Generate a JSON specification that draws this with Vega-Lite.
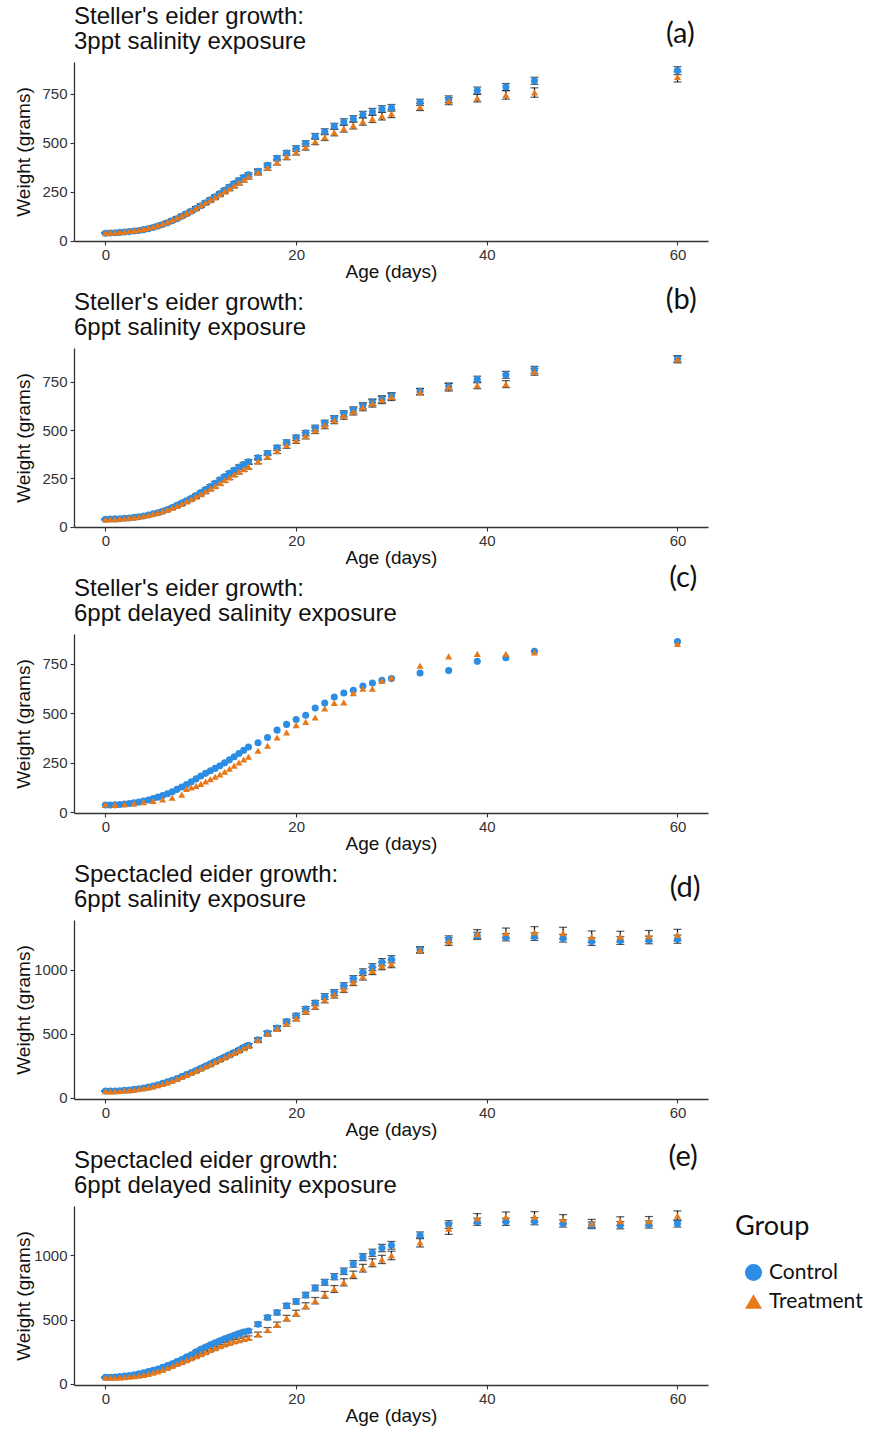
{
"$schema": "https://vega.github.io/schema/vega-lite/v6.json",
"background": "white",
"padding": {"left": 14, "top": 4, "right": 5, "bottom": 2},
"bounds": "flush",
"spacing": 107,
"config": {
  "view": {"stroke": null},
  "axis": {"grid": false, "domainColor": "#333333", "domainWidth": 1.3, "tickColor": "#333333", "tickSize": 4, "tickWidth": 1.1, "labelFont": "Liberation Sans", "labelFontSize": 15, "labelColor": "#333333", "titleFont": "Liberation Sans", "titleFontSize": 19, "titleFontWeight": "normal", "titleColor": "#111111"},
  "axisX": {"labelPadding": 2, "titlePadding": 0},
  "axisY": {"labelPadding": 3, "minExtent": 37, "maxExtent": 37, "titlePadding": 4, "format": "d"},
  "title": {"font": "Liberation Sans", "fontSize": 24, "fontWeight": "normal", "anchor": "start", "frame": "group", "color": "#111111", "lineHeight": 25},
  "legend": {"titleFont": "Lato", "titleFontSize": 27, "titleFontWeight": "normal", "titleColor": "#111111", "labelFont": "Lato", "labelFontSize": 21, "labelColor": "#111111", "symbolSize": 290, "symbolStrokeWidth": 0, "rowPadding": 7, "titlePadding": 21, "symbolOffset": 8, "labelOffset": 5, "offset": 19, "padding": 8}
},
"resolve": {"legend": {"color": "independent", "shape": "independent"}},
"datasets": {
"a": [
{"g":"Control","d":0,"w":38,"e":3},{"g":"Control","d":0.5,"w":39,"e":3},{"g":"Control","d":1,"w":40,"e":3},{"g":"Control","d":1.5,"w":42,"e":3},{"g":"Control","d":2,"w":44,"e":3},{"g":"Control","d":2.5,"w":46,"e":3},{"g":"Control","d":3,"w":49,"e":4},{"g":"Control","d":3.5,"w":52,"e":4},{"g":"Control","d":4,"w":56,"e":4},{"g":"Control","d":4.5,"w":61,"e":4},{"g":"Control","d":5,"w":67,"e":5},{"g":"Control","d":5.5,"w":74,"e":5},{"g":"Control","d":6,"w":82,"e":5},{"g":"Control","d":6.5,"w":91,"e":6},{"g":"Control","d":7,"w":101,"e":6},{"g":"Control","d":7.5,"w":112,"e":6},{"g":"Control","d":8,"w":124,"e":7},{"g":"Control","d":8.5,"w":137,"e":7},{"g":"Control","d":9,"w":150,"e":7},{"g":"Control","d":9.5,"w":164,"e":8},{"g":"Control","d":10,"w":178,"e":8},{"g":"Control","d":10.5,"w":193,"e":8},{"g":"Control","d":11,"w":208,"e":9},{"g":"Control","d":11.5,"w":224,"e":9},{"g":"Control","d":12,"w":240,"e":9},{"g":"Control","d":12.5,"w":257,"e":10},{"g":"Control","d":13,"w":274,"e":10},{"g":"Control","d":13.5,"w":291,"e":10},{"g":"Control","d":14,"w":307,"e":11},{"g":"Control","d":14.5,"w":322,"e":11},{"g":"Control","d":15,"w":336,"e":11},
{"g":"Control","d":16,"w":354,"e":12},{"g":"Control","d":17,"w":384,"e":12},{"g":"Control","d":18,"w":420,"e":13},{"g":"Control","d":19,"w":447,"e":13},{"g":"Control","d":20,"w":470,"e":14},{"g":"Control","d":21,"w":496,"e":14},{"g":"Control","d":22,"w":532,"e":15},{"g":"Control","d":23,"w":556,"e":15},{"g":"Control","d":24,"w":584,"e":15},{"g":"Control","d":25,"w":606,"e":16},{"g":"Control","d":26,"w":622,"e":16},{"g":"Control","d":27,"w":644,"e":16},{"g":"Control","d":28,"w":658,"e":17},{"g":"Control","d":29,"w":672,"e":17},{"g":"Control","d":30,"w":678,"e":17},{"g":"Control","d":33,"w":706,"e":16},{"g":"Control","d":36,"w":722,"e":17},{"g":"Control","d":39,"w":766,"e":18},{"g":"Control","d":42,"w":784,"e":18},{"g":"Control","d":45,"w":816,"e":18},{"g":"Control","d":60,"w":868,"e":20},
{"g":"Treatment","d":0,"w":40,"e":3},{"g":"Treatment","d":0.5,"w":41,"e":3},{"g":"Treatment","d":1,"w":42,"e":3},{"g":"Treatment","d":1.5,"w":44,"e":3},{"g":"Treatment","d":2,"w":46,"e":4},{"g":"Treatment","d":2.5,"w":49,"e":4},{"g":"Treatment","d":3,"w":52,"e":4},{"g":"Treatment","d":3.5,"w":56,"e":5},{"g":"Treatment","d":4,"w":60,"e":5},{"g":"Treatment","d":4.5,"w":65,"e":5},{"g":"Treatment","d":5,"w":71,"e":6},{"g":"Treatment","d":5.5,"w":78,"e":6},{"g":"Treatment","d":6,"w":86,"e":6},{"g":"Treatment","d":6.5,"w":95,"e":7},{"g":"Treatment","d":7,"w":105,"e":7},{"g":"Treatment","d":7.5,"w":116,"e":7},{"g":"Treatment","d":8,"w":127,"e":8},{"g":"Treatment","d":8.5,"w":139,"e":8},{"g":"Treatment","d":9,"w":152,"e":8},{"g":"Treatment","d":9.5,"w":165,"e":9},{"g":"Treatment","d":10,"w":179,"e":9},{"g":"Treatment","d":10.5,"w":193,"e":9},{"g":"Treatment","d":11,"w":207,"e":10},{"g":"Treatment","d":11.5,"w":221,"e":10},{"g":"Treatment","d":12,"w":236,"e":10},{"g":"Treatment","d":12.5,"w":251,"e":11},{"g":"Treatment","d":13,"w":266,"e":11},{"g":"Treatment","d":13.5,"w":281,"e":11},{"g":"Treatment","d":14,"w":296,"e":12},{"g":"Treatment","d":14.5,"w":311,"e":12},{"g":"Treatment","d":15,"w":326,"e":12},
{"g":"Treatment","d":16,"w":348,"e":13},{"g":"Treatment","d":17,"w":372,"e":13},{"g":"Treatment","d":18,"w":400,"e":14},{"g":"Treatment","d":19,"w":428,"e":15},{"g":"Treatment","d":20,"w":452,"e":15},{"g":"Treatment","d":21,"w":478,"e":16},{"g":"Treatment","d":22,"w":506,"e":16},{"g":"Treatment","d":23,"w":528,"e":17},{"g":"Treatment","d":24,"w":552,"e":17},{"g":"Treatment","d":25,"w":572,"e":18},{"g":"Treatment","d":26,"w":588,"e":18},{"g":"Treatment","d":27,"w":608,"e":19},{"g":"Treatment","d":28,"w":622,"e":19},{"g":"Treatment","d":29,"w":636,"e":20},{"g":"Treatment","d":30,"w":648,"e":20},{"g":"Treatment","d":33,"w":682,"e":18},{"g":"Treatment","d":36,"w":712,"e":18},{"g":"Treatment","d":39,"w":728,"e":20},{"g":"Treatment","d":42,"w":744,"e":22},{"g":"Treatment","d":45,"w":756,"e":24},{"g":"Treatment","d":60,"w":836,"e":26}
],
"b": [
{"g":"Control","d":0,"w":38,"e":3},{"g":"Control","d":0.5,"w":39,"e":3},{"g":"Control","d":1,"w":40,"e":3},{"g":"Control","d":1.5,"w":41,"e":3},{"g":"Control","d":2,"w":43,"e":3},{"g":"Control","d":2.5,"w":45,"e":3},{"g":"Control","d":3,"w":48,"e":4},{"g":"Control","d":3.5,"w":51,"e":4},{"g":"Control","d":4,"w":55,"e":4},{"g":"Control","d":4.5,"w":60,"e":4},{"g":"Control","d":5,"w":66,"e":5},{"g":"Control","d":5.5,"w":72,"e":5},{"g":"Control","d":6,"w":80,"e":5},{"g":"Control","d":6.5,"w":89,"e":6},{"g":"Control","d":7,"w":99,"e":6},{"g":"Control","d":7.5,"w":110,"e":6},{"g":"Control","d":8,"w":122,"e":7},{"g":"Control","d":8.5,"w":134,"e":7},{"g":"Control","d":9,"w":147,"e":7},{"g":"Control","d":9.5,"w":161,"e":8},{"g":"Control","d":10,"w":176,"e":8},{"g":"Control","d":10.5,"w":192,"e":8},{"g":"Control","d":11,"w":208,"e":9},{"g":"Control","d":11.5,"w":225,"e":9},{"g":"Control","d":12,"w":242,"e":9},{"g":"Control","d":12.5,"w":259,"e":10},{"g":"Control","d":13,"w":276,"e":10},{"g":"Control","d":13.5,"w":292,"e":10},{"g":"Control","d":14,"w":308,"e":11},{"g":"Control","d":14.5,"w":322,"e":11},{"g":"Control","d":15,"w":336,"e":11},
{"g":"Control","d":16,"w":356,"e":12},{"g":"Control","d":17,"w":380,"e":12},{"g":"Control","d":18,"w":408,"e":13},{"g":"Control","d":19,"w":436,"e":13},{"g":"Control","d":20,"w":460,"e":14},{"g":"Control","d":21,"w":484,"e":14},{"g":"Control","d":22,"w":510,"e":15},{"g":"Control","d":23,"w":536,"e":15},{"g":"Control","d":24,"w":560,"e":15},{"g":"Control","d":25,"w":584,"e":16},{"g":"Control","d":26,"w":604,"e":16},{"g":"Control","d":27,"w":626,"e":16},{"g":"Control","d":28,"w":644,"e":17},{"g":"Control","d":29,"w":660,"e":17},{"g":"Control","d":30,"w":676,"e":17},{"g":"Control","d":33,"w":700,"e":16},{"g":"Control","d":36,"w":726,"e":17},{"g":"Control","d":39,"w":762,"e":17},{"g":"Control","d":42,"w":786,"e":18},{"g":"Control","d":45,"w":812,"e":18},{"g":"Control","d":60,"w":868,"e":16},
{"g":"Treatment","d":0,"w":37,"e":3},{"g":"Treatment","d":0.5,"w":38,"e":3},{"g":"Treatment","d":1,"w":39,"e":3},{"g":"Treatment","d":1.5,"w":41,"e":3},{"g":"Treatment","d":2,"w":43,"e":4},{"g":"Treatment","d":2.5,"w":45,"e":4},{"g":"Treatment","d":3,"w":48,"e":4},{"g":"Treatment","d":3.5,"w":51,"e":5},{"g":"Treatment","d":4,"w":55,"e":5},{"g":"Treatment","d":4.5,"w":60,"e":5},{"g":"Treatment","d":5,"w":66,"e":6},{"g":"Treatment","d":5.5,"w":72,"e":6},{"g":"Treatment","d":6,"w":80,"e":6},{"g":"Treatment","d":6.5,"w":88,"e":7},{"g":"Treatment","d":7,"w":97,"e":7},{"g":"Treatment","d":7.5,"w":107,"e":7},{"g":"Treatment","d":8,"w":118,"e":8},{"g":"Treatment","d":8.5,"w":130,"e":8},{"g":"Treatment","d":9,"w":142,"e":8},{"g":"Treatment","d":9.5,"w":155,"e":9},{"g":"Treatment","d":10,"w":168,"e":9},{"g":"Treatment","d":10.5,"w":182,"e":9},{"g":"Treatment","d":11,"w":196,"e":10},{"g":"Treatment","d":11.5,"w":210,"e":10},{"g":"Treatment","d":12,"w":225,"e":10},{"g":"Treatment","d":12.5,"w":240,"e":11},{"g":"Treatment","d":13,"w":255,"e":11},{"g":"Treatment","d":13.5,"w":270,"e":11},{"g":"Treatment","d":14,"w":285,"e":12},{"g":"Treatment","d":14.5,"w":298,"e":12},{"g":"Treatment","d":15,"w":310,"e":12},
{"g":"Treatment","d":16,"w":338,"e":13},{"g":"Treatment","d":17,"w":362,"e":13},{"g":"Treatment","d":18,"w":392,"e":14},{"g":"Treatment","d":19,"w":420,"e":15},{"g":"Treatment","d":20,"w":446,"e":15},{"g":"Treatment","d":21,"w":470,"e":16},{"g":"Treatment","d":22,"w":498,"e":16},{"g":"Treatment","d":23,"w":524,"e":17},{"g":"Treatment","d":24,"w":550,"e":17},{"g":"Treatment","d":25,"w":574,"e":18},{"g":"Treatment","d":26,"w":596,"e":18},{"g":"Treatment","d":27,"w":618,"e":18},{"g":"Treatment","d":28,"w":638,"e":19},{"g":"Treatment","d":29,"w":656,"e":19},{"g":"Treatment","d":30,"w":672,"e":19},{"g":"Treatment","d":33,"w":698,"e":16},{"g":"Treatment","d":36,"w":722,"e":20},{"g":"Treatment","d":39,"w":732,"e":18},{"g":"Treatment","d":42,"w":738,"e":18},{"g":"Treatment","d":45,"w":802,"e":18},{"g":"Treatment","d":60,"w":866,"e":18}
],
"c": [
{"g":"Control","d":0,"w":37},{"g":"Control","d":0.5,"w":37},{"g":"Control","d":1,"w":38},{"g":"Control","d":1.5,"w":40},{"g":"Control","d":2,"w":42},{"g":"Control","d":2.5,"w":45},{"g":"Control","d":3,"w":48},{"g":"Control","d":3.5,"w":52},{"g":"Control","d":4,"w":57},{"g":"Control","d":4.5,"w":63},{"g":"Control","d":5,"w":70},{"g":"Control","d":5.5,"w":77},{"g":"Control","d":6,"w":85},{"g":"Control","d":6.5,"w":94},{"g":"Control","d":7,"w":104},{"g":"Control","d":7.5,"w":116},{"g":"Control","d":8,"w":128},{"g":"Control","d":8.5,"w":141},{"g":"Control","d":9,"w":155},{"g":"Control","d":9.5,"w":169},{"g":"Control","d":10,"w":184},{"g":"Control","d":10.5,"w":197},{"g":"Control","d":11,"w":210},{"g":"Control","d":11.5,"w":222},{"g":"Control","d":12,"w":235},{"g":"Control","d":12.5,"w":250},{"g":"Control","d":13,"w":265},{"g":"Control","d":13.5,"w":281},{"g":"Control","d":14,"w":297},{"g":"Control","d":14.5,"w":313},{"g":"Control","d":15,"w":330},
{"g":"Control","d":16,"w":351},{"g":"Control","d":17,"w":378},{"g":"Control","d":18,"w":415},{"g":"Control","d":19,"w":444},{"g":"Control","d":20,"w":469},{"g":"Control","d":21,"w":490},{"g":"Control","d":22,"w":527},{"g":"Control","d":23,"w":552},{"g":"Control","d":24,"w":582},{"g":"Control","d":25,"w":602},{"g":"Control","d":26,"w":616},{"g":"Control","d":27,"w":638},{"g":"Control","d":28,"w":653},{"g":"Control","d":29,"w":666},{"g":"Control","d":30,"w":675},{"g":"Control","d":33,"w":703},{"g":"Control","d":36,"w":716},{"g":"Control","d":39,"w":762},{"g":"Control","d":42,"w":780},{"g":"Control","d":45,"w":813},{"g":"Control","d":60,"w":862},
{"g":"Treatment","d":0,"w":40},{"g":"Treatment","d":1,"w":38},{"g":"Treatment","d":2,"w":41},{"g":"Treatment","d":3,"w":45},{"g":"Treatment","d":4,"w":52},{"g":"Treatment","d":5,"w":58},{"g":"Treatment","d":6,"w":65},{"g":"Treatment","d":7,"w":74},{"g":"Treatment","d":8,"w":90},{"g":"Treatment","d":8.5,"w":118},{"g":"Treatment","d":9,"w":126},{"g":"Treatment","d":9.5,"w":134},{"g":"Treatment","d":10,"w":144},{"g":"Treatment","d":10.5,"w":156},{"g":"Treatment","d":11,"w":168},{"g":"Treatment","d":11.5,"w":180},{"g":"Treatment","d":12,"w":192},{"g":"Treatment","d":12.5,"w":205},{"g":"Treatment","d":13,"w":220},{"g":"Treatment","d":13.5,"w":236},{"g":"Treatment","d":14,"w":252},{"g":"Treatment","d":14.5,"w":267},{"g":"Treatment","d":15,"w":281},
{"g":"Treatment","d":16,"w":311},{"g":"Treatment","d":17,"w":336},{"g":"Treatment","d":18,"w":378},{"g":"Treatment","d":19,"w":403},{"g":"Treatment","d":20,"w":440},{"g":"Treatment","d":21,"w":457},{"g":"Treatment","d":22,"w":479},{"g":"Treatment","d":23,"w":524},{"g":"Treatment","d":24,"w":552},{"g":"Treatment","d":25,"w":555},{"g":"Treatment","d":26,"w":602},{"g":"Treatment","d":27,"w":624},{"g":"Treatment","d":28,"w":624},{"g":"Treatment","d":29,"w":663},{"g":"Treatment","d":30,"w":680},{"g":"Treatment","d":33,"w":740},{"g":"Treatment","d":36,"w":787},{"g":"Treatment","d":39,"w":800},{"g":"Treatment","d":42,"w":800},{"g":"Treatment","d":45,"w":807},{"g":"Treatment","d":60,"w":850}
],
"d": [
{"g":"Control","d":0,"w":52,"e":3},{"g":"Control","d":0.5,"w":52,"e":3},{"g":"Control","d":1,"w":53,"e":3},{"g":"Control","d":1.5,"w":55,"e":3},{"g":"Control","d":2,"w":58,"e":3},{"g":"Control","d":2.5,"w":61,"e":4},{"g":"Control","d":3,"w":65,"e":4},{"g":"Control","d":3.5,"w":70,"e":4},{"g":"Control","d":4,"w":76,"e":5},{"g":"Control","d":4.5,"w":83,"e":5},{"g":"Control","d":5,"w":92,"e":5},{"g":"Control","d":5.5,"w":101,"e":6},{"g":"Control","d":6,"w":112,"e":6},{"g":"Control","d":6.5,"w":124,"e":6},{"g":"Control","d":7,"w":137,"e":7},{"g":"Control","d":7.5,"w":151,"e":7},{"g":"Control","d":8,"w":166,"e":7},{"g":"Control","d":8.5,"w":181,"e":8},{"g":"Control","d":9,"w":197,"e":8},{"g":"Control","d":9.5,"w":213,"e":9},{"g":"Control","d":10,"w":230,"e":9},{"g":"Control","d":10.5,"w":248,"e":10},{"g":"Control","d":11,"w":265,"e":10},{"g":"Control","d":11.5,"w":283,"e":11},{"g":"Control","d":12,"w":300,"e":11},{"g":"Control","d":12.5,"w":318,"e":12},{"g":"Control","d":13,"w":335,"e":12},{"g":"Control","d":13.5,"w":353,"e":13},{"g":"Control","d":14,"w":372,"e":13},{"g":"Control","d":14.5,"w":392,"e":14},{"g":"Control","d":15,"w":410,"e":14},
{"g":"Control","d":16,"w":453,"e":15},{"g":"Control","d":17,"w":505,"e":16},{"g":"Control","d":18,"w":546,"e":17},{"g":"Control","d":19,"w":596,"e":18},{"g":"Control","d":20,"w":641,"e":19},{"g":"Control","d":21,"w":693,"e":20},{"g":"Control","d":22,"w":740,"e":21},{"g":"Control","d":23,"w":792,"e":22},{"g":"Control","d":24,"w":823,"e":23},{"g":"Control","d":25,"w":875,"e":24},{"g":"Control","d":26,"w":930,"e":25},{"g":"Control","d":27,"w":982,"e":26},{"g":"Control","d":28,"w":1021,"e":27},{"g":"Control","d":29,"w":1060,"e":28},{"g":"Control","d":30,"w":1083,"e":28},{"g":"Control","d":33,"w":1158,"e":22},{"g":"Control","d":36,"w":1240,"e":26},{"g":"Control","d":39,"w":1266,"e":28},{"g":"Control","d":42,"w":1255,"e":28},{"g":"Control","d":45,"w":1260,"e":30},{"g":"Control","d":48,"w":1247,"e":30},{"g":"Control","d":51,"w":1221,"e":30},{"g":"Control","d":54,"w":1229,"e":30},{"g":"Control","d":57,"w":1234,"e":30},{"g":"Control","d":60,"w":1240,"e":32},
{"g":"Treatment","d":0,"w":51,"e":3},{"g":"Treatment","d":0.5,"w":50,"e":3},{"g":"Treatment","d":1,"w":51,"e":3},{"g":"Treatment","d":1.5,"w":53,"e":3},{"g":"Treatment","d":2,"w":56,"e":4},{"g":"Treatment","d":2.5,"w":59,"e":4},{"g":"Treatment","d":3,"w":63,"e":4},{"g":"Treatment","d":3.5,"w":68,"e":5},{"g":"Treatment","d":4,"w":74,"e":5},{"g":"Treatment","d":4.5,"w":81,"e":5},{"g":"Treatment","d":5,"w":89,"e":6},{"g":"Treatment","d":5.5,"w":98,"e":6},{"g":"Treatment","d":6,"w":108,"e":7},{"g":"Treatment","d":6.5,"w":120,"e":7},{"g":"Treatment","d":7,"w":133,"e":8},{"g":"Treatment","d":7.5,"w":147,"e":8},{"g":"Treatment","d":8,"w":162,"e":9},{"g":"Treatment","d":8.5,"w":178,"e":9},{"g":"Treatment","d":9,"w":194,"e":10},{"g":"Treatment","d":9.5,"w":210,"e":10},{"g":"Treatment","d":10,"w":227,"e":11},{"g":"Treatment","d":10.5,"w":244,"e":11},{"g":"Treatment","d":11,"w":261,"e":12},{"g":"Treatment","d":11.5,"w":279,"e":12},{"g":"Treatment","d":12,"w":297,"e":13},{"g":"Treatment","d":12.5,"w":315,"e":13},{"g":"Treatment","d":13,"w":333,"e":14},{"g":"Treatment","d":13.5,"w":351,"e":14},{"g":"Treatment","d":14,"w":369,"e":15},{"g":"Treatment","d":14.5,"w":387,"e":15},{"g":"Treatment","d":15,"w":405,"e":16},
{"g":"Treatment","d":16,"w":450,"e":17},{"g":"Treatment","d":17,"w":500,"e":18},{"g":"Treatment","d":18,"w":540,"e":19},{"g":"Treatment","d":19,"w":578,"e":20},{"g":"Treatment","d":20,"w":622,"e":21},{"g":"Treatment","d":21,"w":675,"e":22},{"g":"Treatment","d":22,"w":714,"e":23},{"g":"Treatment","d":23,"w":766,"e":24},{"g":"Treatment","d":24,"w":805,"e":25},{"g":"Treatment","d":25,"w":849,"e":26},{"g":"Treatment","d":26,"w":904,"e":27},{"g":"Treatment","d":27,"w":948,"e":28},{"g":"Treatment","d":28,"w":992,"e":29},{"g":"Treatment","d":29,"w":1031,"e":30},{"g":"Treatment","d":30,"w":1047,"e":30},{"g":"Treatment","d":33,"w":1154,"e":24},{"g":"Treatment","d":36,"w":1221,"e":30},{"g":"Treatment","d":39,"w":1281,"e":34},{"g":"Treatment","d":42,"w":1287,"e":40},{"g":"Treatment","d":45,"w":1292,"e":46},{"g":"Treatment","d":48,"w":1287,"e":46},{"g":"Treatment","d":51,"w":1260,"e":44},{"g":"Treatment","d":54,"w":1260,"e":42},{"g":"Treatment","d":57,"w":1266,"e":42},{"g":"Treatment","d":60,"w":1273,"e":44}
],
"e": [
{"g":"Control","d":0,"w":52,"e":3},{"g":"Control","d":0.5,"w":52,"e":3},{"g":"Control","d":1,"w":54,"e":3},{"g":"Control","d":1.5,"w":57,"e":3},{"g":"Control","d":2,"w":61,"e":3},{"g":"Control","d":2.5,"w":66,"e":4},{"g":"Control","d":3,"w":72,"e":4},{"g":"Control","d":3.5,"w":79,"e":4},{"g":"Control","d":4,"w":87,"e":5},{"g":"Control","d":4.5,"w":96,"e":5},{"g":"Control","d":5,"w":106,"e":5},{"g":"Control","d":5.5,"w":117,"e":6},{"g":"Control","d":6,"w":129,"e":6},{"g":"Control","d":6.5,"w":143,"e":6},{"g":"Control","d":7,"w":158,"e":7},{"g":"Control","d":7.5,"w":174,"e":7},{"g":"Control","d":8,"w":191,"e":7},{"g":"Control","d":8.5,"w":209,"e":8},{"g":"Control","d":9,"w":228,"e":8},{"g":"Control","d":9.5,"w":250,"e":9},{"g":"Control","d":10,"w":270,"e":9},{"g":"Control","d":10.5,"w":288,"e":10},{"g":"Control","d":11,"w":304,"e":10},{"g":"Control","d":11.5,"w":320,"e":11},{"g":"Control","d":12,"w":336,"e":11},{"g":"Control","d":12.5,"w":351,"e":12},{"g":"Control","d":13,"w":365,"e":12},{"g":"Control","d":13.5,"w":379,"e":13},{"g":"Control","d":14,"w":393,"e":13},{"g":"Control","d":14.5,"w":405,"e":14},{"g":"Control","d":15,"w":412,"e":14},
{"g":"Control","d":16,"w":465,"e":16},{"g":"Control","d":17,"w":517,"e":17},{"g":"Control","d":18,"w":556,"e":18},{"g":"Control","d":19,"w":608,"e":19},{"g":"Control","d":20,"w":642,"e":20},{"g":"Control","d":21,"w":692,"e":21},{"g":"Control","d":22,"w":747,"e":22},{"g":"Control","d":23,"w":791,"e":23},{"g":"Control","d":24,"w":835,"e":24},{"g":"Control","d":25,"w":877,"e":25},{"g":"Control","d":26,"w":935,"e":26},{"g":"Control","d":27,"w":987,"e":27},{"g":"Control","d":28,"w":1021,"e":28},{"g":"Control","d":29,"w":1058,"e":29},{"g":"Control","d":30,"w":1079,"e":30},{"g":"Control","d":33,"w":1157,"e":26},{"g":"Control","d":36,"w":1241,"e":30},{"g":"Control","d":39,"w":1262,"e":28},{"g":"Control","d":42,"w":1262,"e":28},{"g":"Control","d":45,"w":1267,"e":28},{"g":"Control","d":48,"w":1249,"e":28},{"g":"Control","d":51,"w":1235,"e":26},{"g":"Control","d":54,"w":1235,"e":28},{"g":"Control","d":57,"w":1241,"e":28},{"g":"Control","d":60,"w":1249,"e":28},
{"g":"Treatment","d":0,"w":50,"e":3},{"g":"Treatment","d":0.5,"w":49,"e":3},{"g":"Treatment","d":1,"w":49,"e":3},{"g":"Treatment","d":1.5,"w":51,"e":4},{"g":"Treatment","d":2,"w":53,"e":4},{"g":"Treatment","d":2.5,"w":56,"e":4},{"g":"Treatment","d":3,"w":60,"e":5},{"g":"Treatment","d":3.5,"w":65,"e":5},{"g":"Treatment","d":4,"w":71,"e":5},{"g":"Treatment","d":4.5,"w":79,"e":6},{"g":"Treatment","d":5,"w":88,"e":6},{"g":"Treatment","d":5.5,"w":98,"e":7},{"g":"Treatment","d":6,"w":110,"e":7},{"g":"Treatment","d":6.5,"w":124,"e":8},{"g":"Treatment","d":7,"w":140,"e":8},{"g":"Treatment","d":7.5,"w":155,"e":9},{"g":"Treatment","d":8,"w":170,"e":9},{"g":"Treatment","d":8.5,"w":185,"e":10},{"g":"Treatment","d":9,"w":200,"e":10},{"g":"Treatment","d":9.5,"w":216,"e":11},{"g":"Treatment","d":10,"w":232,"e":11},{"g":"Treatment","d":10.5,"w":248,"e":12},{"g":"Treatment","d":11,"w":264,"e":12},{"g":"Treatment","d":11.5,"w":279,"e":13},{"g":"Treatment","d":12,"w":294,"e":13},{"g":"Treatment","d":12.5,"w":308,"e":14},{"g":"Treatment","d":13,"w":320,"e":14},{"g":"Treatment","d":13.5,"w":331,"e":15},{"g":"Treatment","d":14,"w":341,"e":15},{"g":"Treatment","d":14.5,"w":350,"e":16},{"g":"Treatment","d":15,"w":358,"e":16},
{"g":"Treatment","d":16,"w":386,"e":18},{"g":"Treatment","d":17,"w":420,"e":19},{"g":"Treatment","d":18,"w":462,"e":20},{"g":"Treatment","d":19,"w":512,"e":22},{"g":"Treatment","d":20,"w":551,"e":23},{"g":"Treatment","d":21,"w":608,"e":24},{"g":"Treatment","d":22,"w":648,"e":25},{"g":"Treatment","d":23,"w":694,"e":26},{"g":"Treatment","d":24,"w":739,"e":27},{"g":"Treatment","d":25,"w":791,"e":28},{"g":"Treatment","d":26,"w":849,"e":29},{"g":"Treatment","d":27,"w":901,"e":30},{"g":"Treatment","d":28,"w":943,"e":31},{"g":"Treatment","d":29,"w":969,"e":32},{"g":"Treatment","d":30,"w":1000,"e":33},{"g":"Treatment","d":33,"w":1102,"e":36},{"g":"Treatment","d":36,"w":1209,"e":45},{"g":"Treatment","d":39,"w":1288,"e":38},{"g":"Treatment","d":42,"w":1301,"e":38},{"g":"Treatment","d":45,"w":1301,"e":40},{"g":"Treatment","d":48,"w":1282,"e":36},{"g":"Treatment","d":51,"w":1249,"e":32},{"g":"Treatment","d":54,"w":1267,"e":34},{"g":"Treatment","d":57,"w":1267,"e":36},{"g":"Treatment","d":60,"w":1309,"e":38}
]
},
"vconcat": [
{
  "title": {"text": ["Steller's eider growth:", "3ppt salinity exposure"], "offset": -33.7},
  "width": 634, "height": 179,
  "layer": [
    {"data": {"name": "a"},
     "mark": {"type": "errorbar", "ticks": true, "color": "#111111", "thickness": 1.2, "size": 8},
     "encoding": {"x": {"field": "d", "type": "quantitative", "title": "Age (days)", "scale": {"domain": [-3.3, 63.2], "nice": false, "zero": false}, "axis": {"values": [0, 20, 40, 60]}}, "y": {"field": "w", "type": "quantitative", "title": "Weight (grams)", "scale": {"domain": [-2, 912], "nice": false, "zero": false}, "axis": {"values": [0, 250, 500, 750]}}, "yError": {"field": "e"}}},
    {"data": {"name": "a"},
     "mark": {"type": "point", "filled": true, "size": 50, "opacity": 1},
     "encoding": {
       "x": {"field": "d", "type": "quantitative", "title": "Age (days)"},
       "y": {"field": "w", "type": "quantitative", "title": "Weight (grams)"},
       "color": {"field": "g", "type": "nominal", "scale": {"domain": ["Control", "Treatment"], "range": ["#2C8DE3", "#E8791A"]}, "legend": null},
       "shape": {"field": "g", "type": "nominal", "scale": {"domain": ["Control", "Treatment"], "range": ["circle", "triangle-up"]}, "legend": null}}},
    {"data": {"values": [{"lab": "(a)", "lx": 60.3, "ly": 1055}]},
     "mark": {"type": "text", "font": "Lato", "fontSize": 29, "color": "#111111", "baseline": "middle", "align": "center", "clip": false},
     "encoding": {"x": {"field": "lx", "type": "quantitative", "title": "Age (days)"}, "y": {"field": "ly", "type": "quantitative", "title": "Weight (grams)"}, "text": {"field": "lab", "type": "nominal"}}}
  ]
},
{
  "title": {"text": ["Steller's eider growth:", "6ppt salinity exposure"], "offset": -53.7},
  "width": 634, "height": 179,
  "layer": [
    {"data": {"name": "b"},
     "mark": {"type": "errorbar", "ticks": true, "color": "#111111", "thickness": 1.2, "size": 8},
     "encoding": {"x": {"field": "d", "type": "quantitative", "title": "Age (days)", "scale": {"domain": [-3.3, 63.2], "nice": false, "zero": false}, "axis": {"values": [0, 20, 40, 60]}}, "y": {"field": "w", "type": "quantitative", "title": "Weight (grams)", "scale": {"domain": [-2, 925], "nice": false, "zero": false}, "axis": {"values": [0, 250, 500, 750]}}, "yError": {"field": "e"}}},
    {"data": {"name": "b"},
     "mark": {"type": "point", "filled": true, "size": 50, "opacity": 1},
     "encoding": {
       "x": {"field": "d", "type": "quantitative", "title": "Age (days)"},
       "y": {"field": "w", "type": "quantitative", "title": "Weight (grams)"},
       "color": {"field": "g", "type": "nominal", "scale": {"domain": ["Control", "Treatment"], "range": ["#2C8DE3", "#E8791A"]}, "legend": null},
       "shape": {"field": "g", "type": "nominal", "scale": {"domain": ["Control", "Treatment"], "range": ["circle", "triangle-up"]}, "legend": null}}},
    {"data": {"values": [{"lab": "(b)", "lx": 60.4, "ly": 1174}]},
     "mark": {"type": "text", "font": "Lato", "fontSize": 29, "color": "#111111", "baseline": "middle", "align": "center", "clip": false},
     "encoding": {"x": {"field": "lx", "type": "quantitative", "title": "Age (days)"}, "y": {"field": "ly", "type": "quantitative", "title": "Weight (grams)"}, "text": {"field": "lab", "type": "nominal"}}}
  ]
},
{
  "title": {"text": ["Steller's eider growth:", "6ppt delayed salinity exposure"], "offset": -62.2},
  "width": 634, "height": 179,
  "layer": [
    {"data": {"name": "c"},
     "mark": {"type": "point", "filled": true, "size": 50, "opacity": 1},
     "encoding": {
       "x": {"field": "d", "type": "quantitative", "title": "Age (days)", "scale": {"domain": [-3.3, 63.2], "nice": false, "zero": false}, "axis": {"values": [0, 20, 40, 60]}},
       "y": {"field": "w", "type": "quantitative", "title": "Weight (grams)", "scale": {"domain": [-3, 900], "nice": false, "zero": false}, "axis": {"values": [0, 250, 500, 750]}},
       "color": {"field": "g", "type": "nominal", "scale": {"domain": ["Control", "Treatment"], "range": ["#2C8DE3", "#E8791A"]}, "legend": null},
       "shape": {"field": "g", "type": "nominal", "scale": {"domain": ["Control", "Treatment"], "range": ["circle", "triangle-up"]}, "legend": null}}},
    {"data": {"values": [{"lab": "(c)", "lx": 60.6, "ly": 1185}]},
     "mark": {"type": "text", "font": "Lato", "fontSize": 29, "color": "#111111", "baseline": "middle", "align": "center", "clip": false},
     "encoding": {"x": {"field": "lx", "type": "quantitative", "title": "Age (days)"}, "y": {"field": "ly", "type": "quantitative", "title": "Weight (grams)"}, "text": {"field": "lab", "type": "nominal"}}}
  ]
},
{
  "title": {"text": ["Spectacled eider growth:", "6ppt salinity exposure"], "offset": -38.2},
  "width": 634, "height": 179,
  "layer": [
    {"data": {"name": "d"},
     "mark": {"type": "errorbar", "ticks": true, "color": "#111111", "thickness": 1.2, "size": 8},
     "encoding": {"x": {"field": "d", "type": "quantitative", "title": "Age (days)", "scale": {"domain": [-3.3, 63.2], "nice": false, "zero": false}, "axis": {"values": [0, 20, 40, 60]}}, "y": {"field": "w", "type": "quantitative", "title": "Weight (grams)", "scale": {"domain": [-10, 1390], "nice": false, "zero": false}, "axis": {"values": [0, 500, 1000]}}, "yError": {"field": "e"}}},
    {"data": {"name": "d"},
     "mark": {"type": "point", "filled": true, "size": 50, "opacity": 1},
     "encoding": {
       "x": {"field": "d", "type": "quantitative", "title": "Age (days)"},
       "y": {"field": "w", "type": "quantitative", "title": "Weight (grams)"},
       "color": {"field": "g", "type": "nominal", "scale": {"domain": ["Control", "Treatment"], "range": ["#2C8DE3", "#E8791A"]}, "legend": null},
       "shape": {"field": "g", "type": "nominal", "scale": {"domain": ["Control", "Treatment"], "range": ["circle", "triangle-up"]}, "legend": null}}},
    {"data": {"values": [{"lab": "(d)", "lx": 60.8, "ly": 1644}]},
     "mark": {"type": "text", "font": "Lato", "fontSize": 29, "color": "#111111", "baseline": "middle", "align": "center", "clip": false},
     "encoding": {"x": {"field": "lx", "type": "quantitative", "title": "Age (days)"}, "y": {"field": "ly", "type": "quantitative", "title": "Weight (grams)"}, "text": {"field": "lab", "type": "nominal"}}}
  ]
},
{
  "title": {"text": ["Spectacled eider growth:", "6ppt delayed salinity exposure"], "offset": -54.7},
  "width": 634, "height": 179,
  "layer": [
    {"data": {"name": "e"},
     "mark": {"type": "errorbar", "ticks": true, "color": "#111111", "thickness": 1.2, "size": 8},
     "encoding": {"x": {"field": "d", "type": "quantitative", "title": "Age (days)", "scale": {"domain": [-3.3, 63.2], "nice": false, "zero": false}, "axis": {"values": [0, 20, 40, 60]}}, "y": {"field": "w", "type": "quantitative", "title": "Weight (grams)", "scale": {"domain": [-8, 1385], "nice": false, "zero": false}, "axis": {"values": [0, 500, 1000]}}, "yError": {"field": "e"}}},
    {"data": {"name": "e"},
     "mark": {"type": "point", "filled": true, "size": 50, "opacity": 1},
     "encoding": {
       "x": {"field": "d", "type": "quantitative", "title": "Age (days)"},
       "y": {"field": "w", "type": "quantitative", "title": "Weight (grams)"},
       "color": {"field": "g", "type": "nominal", "scale": {"domain": ["Control", "Treatment"], "range": ["#2C8DE3", "#E8791A"]}, "legend": {"title": "Group"}},
       "shape": {"field": "g", "type": "nominal", "scale": {"domain": ["Control", "Treatment"], "range": ["circle", "triangle-up"]}, "legend": {"title": "Group"}}}},
    {"data": {"values": [{"lab": "(e)", "lx": 60.6, "ly": 1766}]},
     "mark": {"type": "text", "font": "Lato", "fontSize": 29, "color": "#111111", "baseline": "middle", "align": "center", "clip": false},
     "encoding": {"x": {"field": "lx", "type": "quantitative", "title": "Age (days)"}, "y": {"field": "ly", "type": "quantitative", "title": "Weight (grams)"}, "text": {"field": "lab", "type": "nominal"}}}
  ]
}
]
}
